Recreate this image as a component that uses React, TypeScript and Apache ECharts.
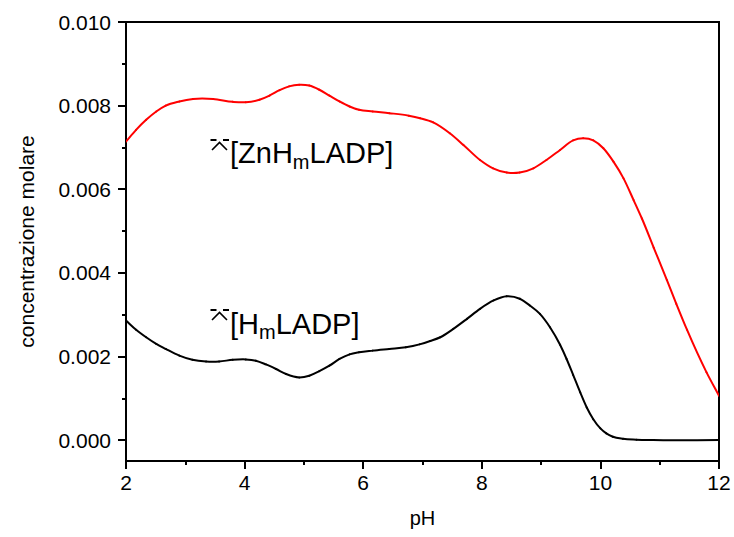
import React, { useEffect, useRef } from "react";
import * as echarts from "echarts";

// Data
const phZn = [2, 2.17, 2.34, 2.51, 2.67, 2.9, 3.13, 3.47, 3.8, 4.02, 4.25, 4.42, 4.59, 4.75, 4.92, 5.09, 5.26, 5.43, 5.6, 5.77, 5.93, 6.16, 6.44, 6.77, 6.96, 7.18, 7.46, 7.69, 7.97, 8.19, 8.42, 8.64, 8.87, 9.09, 9.32, 9.54, 9.71, 9.88, 10.05, 10.22, 10.39, 10.56, 10.7, 10.9, 11.12, 11.28, 11.46, 11.79, 12];
const concZn = [0.00714, 0.00742, 0.00766, 0.00786, 0.008, 0.0081, 0.00816, 0.00816, 0.00809, 0.00808, 0.00814, 0.00824, 0.00837, 0.00846, 0.0085, 0.00848, 0.00838, 0.00824, 0.0081, 0.00798, 0.0079, 0.00786, 0.00782, 0.00776, 0.0077, 0.0076, 0.00734, 0.00706, 0.0067, 0.0065, 0.0064, 0.0064, 0.0065, 0.0067, 0.00694, 0.00717, 0.00722, 0.00717, 0.00698, 0.00666, 0.00626, 0.00574, 0.0053, 0.0046, 0.00383, 0.00326, 0.00264, 0.00162, 0.00106];

const phH = [2, 2.17, 2.34, 2.51, 2.67, 2.9, 3.12, 3.35, 3.57, 3.8, 4.02, 4.19, 4.36, 4.53, 4.7, 4.92, 5.09, 5.26, 5.43, 5.6, 5.77, 5.93, 6.16, 6.44, 6.72, 6.95, 7.13, 7.3, 7.52, 7.75, 7.97, 8.2, 8.42, 8.64, 8.81, 8.98, 9.15, 9.32, 9.43, 9.54, 9.66, 9.77, 9.88, 10, 10.1, 10.21, 10.38, 10.61, 10.89, 12];
const concH = [0.00286, 0.00264, 0.00246, 0.0023, 0.00218, 0.00202, 0.00192, 0.00188, 0.00188, 0.00192, 0.00193, 0.0019, 0.00181, 0.0017, 0.00158, 0.0015, 0.00154, 0.00165, 0.00178, 0.00194, 0.00205, 0.0021, 0.00214, 0.00218, 0.00222, 0.00229, 0.00237, 0.00246, 0.00266, 0.0029, 0.00314, 0.00334, 0.00344, 0.00338, 0.00322, 0.00302, 0.0027, 0.00228, 0.00194, 0.00156, 0.00114, 0.00078, 0.0005, 0.00028, 0.00016, 0.00008, 0.00003, 0.00001, 0, 0];

const yMajorTicks = [0, 0.002, 0.004, 0.006, 0.008, 0.01];
const yMinorTicks = [0.001, 0.003, 0.005, 0.007, 0.009];

const FONT = "Arial, 'Liberation Sans', sans-serif";

function pairs(xs: number[], ys: number[]) {
  return xs.map((x, i) => [x, ys[i]]);
}

// Smooth curve through data points (cubic Hermite with three-point tangents), in pixel space via api.coord
function splineSeries(xs: number[], ys: number[], color: string) {
  return {
    type: "custom",
    data: pairs(xs, ys),
    clip: true,
    renderItem: (params: any, api: any) => {
      const i = params.dataIndex;
      if (i >= xs.length - 1) return null;
      const P = (k: number) => api.coord([xs[k], ys[k]]);
      const slope = (k: number) => {
        const n = xs.length;
        const p = P(k);
        if (k === 0) {
          const q = P(1);
          return (q[1] - p[1]) / (q[0] - p[0]);
        }
        if (k === n - 1) {
          const q = P(n - 2);
          return (p[1] - q[1]) / (p[0] - q[0]);
        }
        const a = P(k - 1);
        const b = P(k + 1);
        const h0 = p[0] - a[0];
        const h1 = b[0] - p[0];
        const s0 = (p[1] - a[1]) / h0;
        const s1 = (b[1] - p[1]) / h1;
        return (s0 * h1 + s1 * h0) / (h0 + h1);
      };
      const p0 = P(i);
      const p1 = P(i + 1);
      const h = p1[0] - p0[0];
      const m0 = slope(i);
      const m1 = slope(i + 1);
      return {
        type: "bezierCurve",
        shape: {
          x1: p0[0],
          y1: p0[1],
          cpx1: p0[0] + h / 3,
          cpy1: p0[1] + (m0 * h) / 3,
          cpx2: p1[0] - h / 3,
          cpy2: p1[1] - (m1 * h) / 3,
          x2: p1[0],
          y2: p1[1],
        },
        style: { stroke: color, lineWidth: 2, fill: null, lineCap: "round" },
      };
    },
  };
}

function symbol(dy: number) {
  const s = { stroke: "#000", lineWidth: 1.6, fill: "none" };
  return [
    { type: "line", shape: { x1: 210.5, y1: 140 + dy, x2: 216.5, y2: 140 + dy }, style: { stroke: "#000", lineWidth: 2 } },
    { type: "line", shape: { x1: 223, y1: 140 + dy, x2: 229, y2: 140 + dy }, style: { stroke: "#000", lineWidth: 2 } },
    { type: "polyline", shape: { points: [[212, 150 + dy], [219.5, 142.5 + dy], [227, 150 + dy]] }, style: s },
  ];
}

function label(parts: [string, boolean][], x0: number, baseline: number) {
  const els: any[] = [];
  const ctx = document.createElement("canvas").getContext("2d")!;
  let x = x0;
  for (const [t, sub] of parts) {
    const fs = sub ? 20 : 29;
    ctx.font = `${fs}px Arial, 'Liberation Sans'`;
    const w = ctx.measureText(t).width;
    const bl = sub ? baseline + 5 : baseline;
    els.push({
      type: "text",
      x,
      y: bl - fs * 0.35,
      style: { text: t, fontSize: fs, fontFamily: FONT, fill: "#000", align: "left", verticalAlign: "middle" },
    });
    x += w;
  }
  return els;
}

export default function App() {
  const ref = useRef<HTMLDivElement>(null);
  useEffect(() => {
    const chart = echarts.init(ref.current!, null, { renderer: "svg" });
    chart.setOption({
      animation: false,
      backgroundColor: "#fff",
      grid: { left: 126, right: 15, top: 22, bottom: 76, show: true, borderColor: "#000", borderWidth: 2, backgroundColor: "transparent" },
      xAxis: {
        type: "value",
        min: 2,
        max: 12,
        interval: 2,
        name: "pH",
        nameLocation: "middle",
        nameGap: 47,
        nameTextStyle: { fontSize: 20, fontFamily: FONT, color: "#000" },
        axisLine: { onZero: false, lineStyle: { color: "#000", width: 2 } },
        axisTick: { inside: false, length: 8, lineStyle: { color: "#000", width: 2 } },
        minorTick: { show: true, splitNumber: 2, length: 4, lineStyle: { color: "#000", width: 2 } },
        axisLabel: { fontSize: 21, fontFamily: FONT, color: "#000", margin: 11 },
        splitLine: { show: false },
      },
      yAxis: [
        {
          type: "value",
          min: -0.0005,
          max: 0.01,
          position: "left",
          name: "concentrazione molare",
          nameLocation: "middle",
          nameGap: 89,
          nameTextStyle: { fontSize: 21, fontFamily: FONT, color: "#000" },
          axisLine: { onZero: false, lineStyle: { color: "#000", width: 2 } },
          axisTick: { inside: false, length: 8, customValues: yMajorTicks, lineStyle: { color: "#000", width: 2 } },
          axisLabel: {
            fontSize: 21,
            fontFamily: FONT,
            color: "#000",
            margin: 15,
            customValues: yMajorTicks,
            formatter: (v: number) => v.toFixed(3),
          },
          splitLine: { show: false },
        },
        {
          type: "value",
          min: -0.0005,
          max: 0.01,
          position: "left",
          axisLine: { show: false, onZero: false },
          axisTick: { inside: false, length: 4, customValues: yMinorTicks, lineStyle: { color: "#000", width: 2 } },
          axisLabel: { show: false },
          splitLine: { show: false },
        },
      ],
      series: [splineSeries(phZn, concZn, "#ff0000"), splineSeries(phH, concH, "#000000")],
      graphic: [
        ...symbol(0),
        ...label([["[ZnH", false], ["m", true], ["LADP]", false]], 230, 163.5),
        ...symbol(170),
        ...label([["[H", false], ["m", true], ["LADP]", false]], 230, 334),
      ],
    });
    return () => chart.dispose();
  }, []);
  return <div ref={ref} style={{ width: 734, height: 537, position: "absolute", left: 0, top: 0 }} />;
}
